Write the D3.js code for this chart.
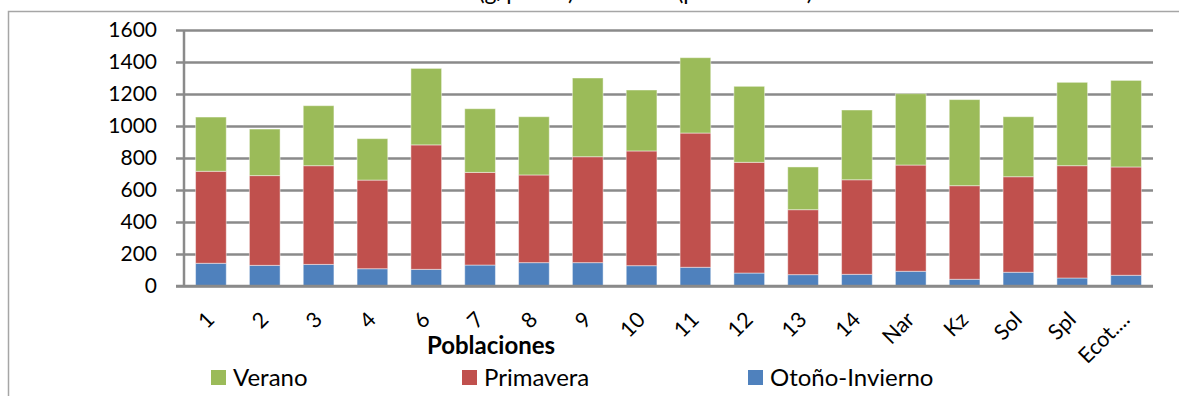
<!DOCTYPE html>
<html>
<head>
<meta charset="utf-8">
<script src="https://cdn.jsdelivr.net/npm/d3@7"></script>
<style>
  html, body { margin: 0; padding: 0; background: #fff; }
  svg { display: block; font-family: Lato, "Open Sans", sans-serif; }
</style>
</head>
<body>
<svg id="chart" width="1179" height="396"></svg>
<script>
// Populations on the category axis
const categories = ["1", "2", "3", "4", "6", "7", "8", "9", "10", "11", "12", "13", "14", "Nar", "Kz", "Sol", "Spl", "Ecot...."];

// Production per season (g/planta), stacked bottom to top
const otonoInvierno = [142, 129, 135, 108, 104, 131, 146, 146, 127, 117, 81, 71, 73, 92, 42, 86, 50, 67];
const primavera     = [575, 561, 617, 554, 778, 579, 548, 662, 717, 839, 692, 406, 591, 664, 585, 597, 702, 677];
const verano        = [339, 291, 375, 259, 478, 398, 364, 492, 381, 471, 475, 267, 436, 446, 538, 375, 521, 541];

const seriesNames = ["Otoño-Invierno", "Primavera", "Verano"];
const legendOrder = ["Verano", "Primavera", "Otoño-Invierno"];
const yTicks = [0, 200, 400, 600, 800, 1000, 1200, 1400, 1600];

const titleText = "Producción total (g/planta) de frutos (por estación)";
const xTitle = "Poblaciones";

const colors = {
  "Otoño-Invierno": "#4F81BD",
  "Primavera": "#C0504D",
  "Verano": "#9BBB59"
};

const rows = categories.map((c, i) => ({
  cat: c,
  "Otoño-Invierno": otonoInvierno[i],
  "Primavera": primavera[i],
  "Verano": verano[i]
}));

const svg = d3.select("#chart");
const W = 1179, H = 396;
const plot = { left: 184, right: 1153, top: 30, bottom: 286 };

// outer chart frame (extends past the visible area on the right and bottom)
svg.append("rect")
  .attr("x", 8.5).attr("y", 11.5)
  .attr("width", W + 20).attr("height", H + 20)
  .attr("fill", "none").attr("stroke", "#a6a6a6").attr("stroke-width", 1.5);

// title, mostly above the visible area
svg.append("text")
  .attr("x", 560).attr("y", 0)
  .attr("text-anchor", "middle")
  .attr("font-size", 23)
  .attr("fill", "#000")
  .text(titleText);

const x = d3.scaleBand()
  .domain(categories)
  .range([plot.left, plot.right])
  .paddingInner(0.43)
  .paddingOuter(0.215);

const y = d3.scaleLinear()
  .domain([0, 1600])
  .range([plot.bottom, plot.top]);

// horizontal gridlines + y axis
const yAxis = d3.axisLeft(y)
  .tickValues(yTicks)
  .tickSize(-(plot.right - plot.left))
  .tickPadding(0)
  .tickFormat(d3.format("d"));

const gy = svg.append("g")
  .attr("transform", `translate(${plot.left},0)`)
  .call(yAxis);
gy.select(".domain").remove();
gy.selectAll(".tick line")
  .attr("x1", -8)
  .attr("stroke", "#8a8a8a")
  .attr("stroke-width", 2.5);
gy.selectAll(".tick text")
  .attr("x", -27)
  .attr("font-size", 21)
  .attr("font-family", "Lato, sans-serif")
  .attr("fill", "#000");

// y axis line
svg.append("line")
  .attr("x1", plot.left).attr("x2", plot.left)
  .attr("y1", plot.top).attr("y2", plot.bottom + 1)
  .attr("stroke", "#8a8a8a").attr("stroke-width", 2.5);

// stacked bars
const stack = d3.stack().keys(seriesNames);
const stacked = stack(rows);

svg.append("g")
  .selectAll("g")
  .data(stacked)
  .join("g")
  .attr("fill", d => colors[d.key])
  .selectAll("rect")
  .data(d => d)
  .join("rect")
  .attr("x", d => x(d.data.cat))
  .attr("width", x.bandwidth())
  .attr("y", d => y(d[1]))
  .attr("height", d => y(d[0]) - y(d[1]))
  .attr("stroke", "rgba(255,255,255,0.45)")
  .attr("stroke-width", 1);

// baseline drawn over the bars
svg.append("line")
  .attr("x1", plot.left - 8).attr("x2", plot.right)
  .attr("y1", plot.bottom).attr("y2", plot.bottom)
  .attr("stroke", "#8a8a8a").attr("stroke-width", 2.5);

// rotated category labels
svg.append("g")
  .selectAll("text")
  .data(categories)
  .join("text")
  .attr("transform", d => `translate(${x(d) + x.bandwidth() / 2 + 5},${plot.bottom + 35}) rotate(-45)`)
  .attr("text-anchor", "end")
  .attr("font-size", 21.5)
  .attr("fill", "#000")
  .text(d => d);

// x axis title
svg.append("text")
  .attr("x", 491).attr("y", 354)
  .attr("text-anchor", "middle")
  .attr("font-size", 24)
  .attr("font-weight", "bold")
  .attr("fill", "#000")
  .text(xTitle);

// legend
const legendX = [211, 462, 748];
const lg = svg.append("g")
  .selectAll("g")
  .data(legendOrder)
  .join("g")
  .attr("transform", (d, i) => `translate(${legendX[i]},370)`);
lg.append("rect")
  .attr("width", 15).attr("height", 15)
  .attr("fill", d => colors[d]);
lg.append("text")
  .attr("x", 22).attr("y", 16)
  .attr("font-size", 24)
  .attr("fill", "#000")
  .text(d => d);
</script>
</body>
</html>
